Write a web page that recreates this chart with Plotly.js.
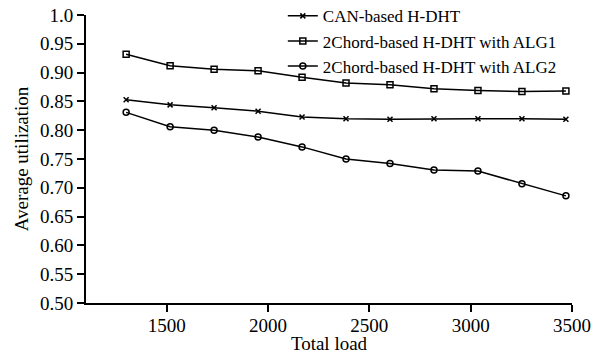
<!DOCTYPE html>
<html><head><meta charset="utf-8">
<script src="https://cdn.plot.ly/plotly-3.0.1.min.js"></script>
<style>html,body{margin:0;padding:0;background:#fff}</style>
</head><body>
<div id="chart" style="width:598px;height:354px"></div>
<script>
var totalLoad = [1300, 1517, 1734, 1951, 2168, 2385, 2602, 2819, 3036, 3253, 3470];
var canBased = [0.853, 0.844, 0.839, 0.833, 0.823, 0.820, 0.819, 0.820, 0.820, 0.820, 0.819];
var chordAlg1 = [0.932, 0.912, 0.906, 0.903, 0.892, 0.882, 0.879, 0.872, 0.869, 0.867, 0.868];
var chordAlg2 = [0.831, 0.806, 0.800, 0.788, 0.771, 0.750, 0.742, 0.731, 0.729, 0.707, 0.686];
var seriesNames = ["CAN-based H-DHT", "2Chord-based H-DHT with ALG1", "2Chord-based H-DHT with ALG2"];
var yTickVals = [0.5, 0.55, 0.6, 0.65, 0.7, 0.75, 0.8, 0.85, 0.9, 0.95, 1.0];
var yTickText = ["0.50", "0.55", "0.60", "0.65", "0.70", "0.75", "0.80", "0.85", "0.90", "0.95", "1.0"];
var xTickVals = [1500, 2000, 2500, 3000, 3500];

var fam = "Liberation Serif, Times New Roman, serif";
var font = {family: fam, size: 19, color: "#000"};
var legFont = {family: fam, size: 17, color: "#000"};
function tr(y, name, sym, size) {
  return {x: totalLoad, y: y, name: name, type: "scatter", mode: "lines+markers",
    line: {color: "#000", width: 1.5},
    marker: {symbol: sym, size: size, color: "#000", line: {color: "#000", width: 1.5}}};
}
var data = [
  tr(canBased, seriesNames[0], "x-thin", 5),
  tr(chordAlg1, seriesNames[1], "square-open", 6),
  tr(chordAlg2, seriesNames[2], "circle-open", 6)
];
var layout = {
  width: 598, height: 354,
  margin: {l: 86, r: 26, t: 15, b: 51, autoexpand: false},
  paper_bgcolor: "#fff", plot_bgcolor: "#fff",
  font: font,
  showlegend: true,
  legend: {x: 0.405, y: 1.058, xanchor: "left", yanchor: "top", bgcolor: "rgba(0,0,0,0)",
    font: legFont, itemwidth: 30, tracegroupgap: 0},
  xaxis: {range: [1102, 3500], tickvals: xTickVals, ticks: "outside", ticklen: 7, tickwidth: 2,
    tickcolor: "#000", showline: true, linewidth: 2, linecolor: "#000", showgrid: false,
    zeroline: false, tickfont: font, ticklabelstandoff: -3,
    title: {text: "Total load", font: font, standoff: 3}},
  yaxis: {range: [0.5, 1.0], tickvals: yTickVals, ticktext: yTickText, ticks: "outside", ticklen: 7,
    tickwidth: 2, tickcolor: "#000", showline: true, linewidth: 2, linecolor: "#000",
    showgrid: false, zeroline: false, tickfont: font,
    title: {text: "Average utilization", font: font, standoff: 6}}
};
Plotly.newPlot("chart", data, layout, {displayModeBar: false, staticPlot: true});
</script>
</body></html>
